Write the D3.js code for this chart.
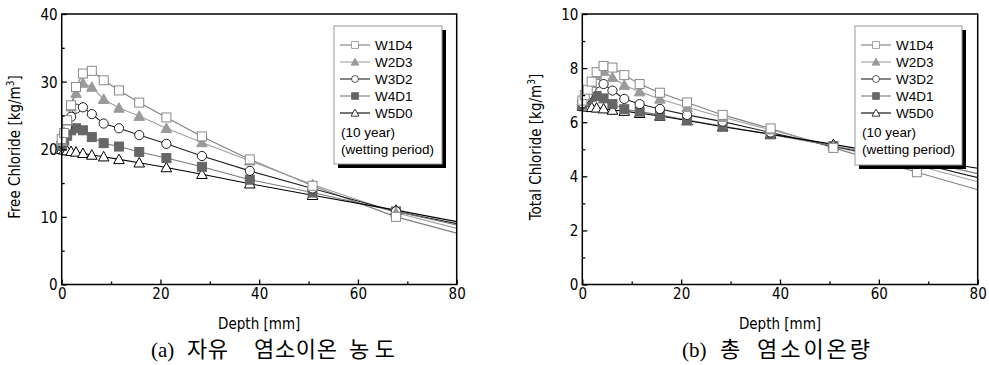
<!DOCTYPE html>
<html><head><meta charset="utf-8">
<script src="https://cdn.jsdelivr.net/npm/d3@7"></script>
<style>
body{margin:0;background:#fff;}
svg{display:block;}
.tk{font-family:"DejaVu Sans Condensed","DejaVu Sans",sans-serif;font-size:15px;}
.lg{font-family:"Liberation Sans",Arial,sans-serif;font-size:13.5px;}
.capL{font-family:"Liberation Serif",serif;font-size:21px;}
.capK{font-family:"Noto Sans CJK KR",sans-serif;font-size:22px;}
</style></head>
<body>
<svg id="c" width="989" height="365"></svg>
<script>
// ---------- data ----------
const depths = [0, 0.5, 1.1, 1.9, 2.9, 4.3, 6.1, 8.5, 11.6, 15.7, 21.2, 28.4, 38.1, 50.8, 67.7, 80];
const seriesNames = ["W1D4", "W2D3", "W3D2", "W4D1", "W5D0"];
// (a) free chloride [kg/m3]
const freeW1D4 = [21.5, 22.4, 24.3, 26.5, 29.2, 31.2, 31.6, 30.2, 28.7, 26.9, 24.7, 21.9, 18.5, 14.6, 10.0, 7.6];
const freeW2D3 = [21.2, 22.5, 24.2, 26.3, 28.3, 29.8, 29.2, 27.4, 26.1, 24.9, 23.1, 21.0, 18.3, 14.8, 10.6, 8.3];
const freeW3D2 = [21.0, 22.2, 23.3, 24.8, 26.0, 26.2, 25.2, 23.8, 23.1, 22.1, 20.8, 19.0, 16.8, 14.2, 10.8, 9.0];
const freeW4D1 = [20.5, 21.3, 22.0, 22.8, 23.1, 22.8, 21.8, 20.9, 20.4, 19.6, 18.7, 17.4, 15.5, 13.6, 10.8, 8.8];
const freeW5D0 = [20.0, 19.9, 19.8, 19.7, 19.6, 19.4, 19.15, 18.9, 18.5, 18.0, 17.3, 16.3, 14.9, 13.2, 11.0, 9.3];
// (b) total chloride [kg/m3]
const totalW1D4 = [6.8, 7.0, 7.2, 7.5, 7.85, 8.08, 8.02, 7.74, 7.41, 7.09, 6.73, 6.27, 5.77, 5.05, 4.15, 3.5];
const totalW2D3 = [6.8, 7.0, 7.2, 7.45, 7.75, 7.89, 7.66, 7.37, 7.13, 6.86, 6.55, 6.18, 5.72, 5.1, 4.4, 3.8];
const totalW3D2 = [6.7, 6.85, 7.0, 7.25, 7.44, 7.41, 7.17, 6.86, 6.67, 6.49, 6.27, 6.02, 5.62, 5.1, 4.5, 3.95];
const totalW4D1 = [6.65, 6.75, 6.85, 6.94, 6.97, 6.88, 6.67, 6.48, 6.39, 6.27, 6.08, 5.86, 5.55, 5.12, 4.6, 4.1];
const totalW5D0 = [6.6, 6.58, 6.57, 6.55, 6.53, 6.5, 6.45, 6.41, 6.33, 6.23, 6.06, 5.83, 5.56, 5.18, 4.65, 4.3];
const xTicks = [0, 20, 40, 60, 80];
const xMinor = [10, 30, 50, 70];
const yTicksA = [0, 10, 20, 30, 40];
const yMinorA = [5, 15, 25, 35];
const yTicksB = [0, 2, 4, 6, 8, 10];
const yMinorB = [1, 3, 5, 7, 9];
const noteLines = ["(10 year)", "(wetting period)"];
const captionA = ["(a)", "자유", "염소이온", "농도"];
const captionB = ["(b)", "총", "염소이온량"];

// ---------- styles ----------
const styles = [
  {shape: "square",   line: "#808080", stroke: "#8a8a8a", fill: "#fff"},
  {shape: "triangle", line: "#a0a0a0", stroke: "#9a9a9a", fill: "#9a9a9a"},
  {shape: "circle",   line: "#222",    stroke: "#222",    fill: "#fff"},
  {shape: "square",   line: "#7a7a7a", stroke: "#666",    fill: "#666"},
  {shape: "triangle", line: "#000",    stroke: "#000",    fill: "#fff"}
];

const svg = d3.select("#c");

function marker(g, shape, st, x, y) {
  if (shape === "square") {
    g.append("rect").attr("x", x - 4.5).attr("y", y - 4.5).attr("width", 9).attr("height", 9)
      .attr("fill", st.fill).attr("stroke", st.stroke).attr("stroke-width", 1);
  } else if (shape === "circle") {
    g.append("circle").attr("cx", x).attr("cy", y).attr("r", 4.6)
      .attr("fill", st.fill).attr("stroke", st.stroke).attr("stroke-width", 1);
  } else {
    const s = 5.3;
    g.append("path").attr("d", `M${x},${y - s}L${x + s},${y + s * 0.8}L${x - s},${y + s * 0.8}Z`)
      .attr("fill", st.fill).attr("stroke", st.stroke).attr("stroke-width", 1);
  }
}

function panel(cfg) {
  const x = d3.scaleLinear().domain([0, 80]).range([cfg.x0, cfg.x1]);
  const y = d3.scaleLinear().domain([0, cfg.ymax]).range([284.5, 14]);
  const g = svg.append("g");

  cfg.series.forEach((vals, i) => {
    const st = styles[i];
    const pts = depths.map((d, j) => [d, vals[j]]);
    g.append("path").datum(pts)
      .attr("d", d3.line().x(p => x(p[0])).y(p => y(p[1])))
      .attr("fill", "none").attr("stroke", st.line).attr("stroke-width", 1.1);
  });
  for (let i = cfg.series.length - 1; i >= 0; i--) {
    const st = styles[i];
    const mg = g.append("g");
    depths.forEach((d, j) => {
      if (d < 80) marker(mg, st.shape, st, x(d), y(cfg.series[i][j]));
    });
  }

  const xa = g.append("g").attr("transform", "translate(0,284.5)")
    .call(d3.axisBottom(x).tickValues(xTicks).tickSizeInner(-5).tickSizeOuter(0).tickPadding(5).tickFormat(d3.format("d")));
  g.append("g").attr("transform", "translate(0,284.5)")
    .call(d3.axisBottom(x).tickValues(xMinor).tickSizeInner(-3).tickSizeOuter(0).tickFormat(""));
  const ya = g.append("g").attr("transform", `translate(${cfg.x0},0)`)
    .call(d3.axisLeft(y).tickValues(cfg.yTicks).tickSizeInner(-5).tickSizeOuter(0).tickPadding(4).tickFormat(d3.format("d")));
  g.append("g").attr("transform", `translate(${cfg.x0},0)`)
    .call(d3.axisLeft(y).tickValues(cfg.yMinor).tickSizeInner(-3).tickSizeOuter(0).tickFormat(""));
  g.selectAll(".domain").remove();
  g.selectAll(".tick line").attr("stroke", "#000").attr("stroke-width", 1.3);
  g.selectAll(".tick text").attr("class", "tk").attr("fill", "#000");
  xa.attr("font-size", null).attr("font-family", null);
  ya.attr("font-size", null).attr("font-family", null);
  xa.selectAll(".tick text").attr("dy", null).attr("y", 14.5);
  ya.selectAll(".tick text").attr("dy", "0.36em");

  g.append("rect").attr("x", cfg.x0).attr("y", 14).attr("width", cfg.x1 - cfg.x0).attr("height", 284.5 - 14)
    .attr("fill", "none").attr("stroke", "#000").attr("stroke-width", 1.5);

  g.append("text").attr("class", "tk").attr("x", (cfg.x0 + cfg.x1) / 2).attr("y", 328.5)
    .attr("text-anchor", "middle").text("Depth [mm]");
  const yt = g.append("text").attr("class", "tk")
    .attr("transform", `translate(${cfg.ylabX},147) rotate(-90)`).attr("text-anchor", "middle");
  yt.append("tspan").text(cfg.ylabel + " [kg/m");
  yt.append("tspan").attr("dy", -6).style("font-size", "10px").text("3");
  yt.append("tspan").attr("dy", 6).text("]");

  const L = cfg.legend;
  g.append("rect").attr("x", L.x + 4).attr("y", L.y + 4).attr("width", L.w).attr("height", L.h).attr("fill", "#000");
  g.append("rect").attr("x", L.x).attr("y", L.y).attr("width", L.w).attr("height", L.h)
    .attr("fill", "#fff").attr("stroke", "#999").attr("stroke-width", 1);
  seriesNames.forEach((n, i) => {
    const st = styles[i];
    const cy = L.y + 19 + i * 17;
    g.append("line").attr("x1", L.x + 6).attr("x2", L.x + 36).attr("y1", cy).attr("y2", cy)
      .attr("stroke", st.line).attr("stroke-width", 1.1);
    const mg = g.append("g").attr("transform", `translate(${L.x + 21},${cy}) scale(0.75) translate(${-(L.x + 21)},${-cy})`);
    marker(mg, st.shape, st, L.x + 21, cy);
    g.append("text").attr("class", "lg").attr("x", L.x + 41).attr("y", cy + 5).text(n);
  });
  noteLines.forEach((t, k) => {
    g.append("text").attr("class", "lg").attr("x", L.x + 7).attr("y", L.y + 111 + k * 16.5).text(t);
  });

  cfg.caption.forEach((w, k) => {
    const t = g.append("text").attr("class", k === 0 ? "capL" : "capK")
      .attr("x", cfg.capX[k]).attr("y", 357).text(w);
    if (cfg.capW[k]) t.attr("textLength", cfg.capW[k]).attr("lengthAdjust", "spacing");
  });
}

panel({x0: 61.7, x1: 456.7, ymax: 40, yTicks: yTicksA, yMinor: yMinorA,
  series: [freeW1D4, freeW2D3, freeW3D2, freeW4D1, freeW5D0],
  ylabel: "Free Chloride", ylabX: 20,
  legend: {x: 334, y: 26, w: 108, h: 138},
  caption: captionA, capX: [151, 187, 254, 349], capW: [0, 41, 83, 46]});
panel({x0: 582.3, x1: 977.7, ymax: 10, yTicks: yTicksB, yMinor: yMinorB,
  series: [totalW1D4, totalW2D3, totalW3D2, totalW4D1, totalW5D0],
  ylabel: "Total Chloride", ylabX: 541,
  legend: {x: 855, y: 26, w: 107, h: 139},
  caption: captionB, capX: [682, 720, 757], capW: [0, 0, 113]});
</script>
</body></html>
